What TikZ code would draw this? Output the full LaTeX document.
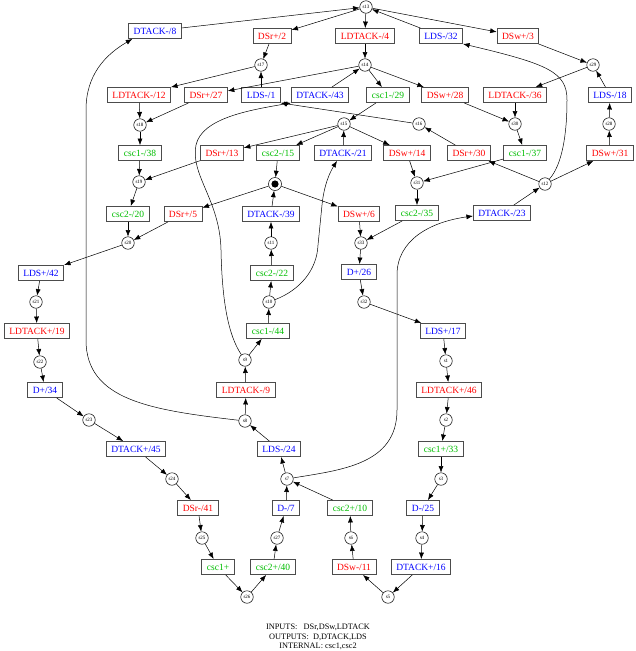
\documentclass[tikz,border=0pt]{standalone}
\usepackage{fontspec}
\setmainfont{Liberation Serif}
\usetikzlibrary{arrows.meta}

\definecolor{inputcolor}{RGB}{255,0,0}
\definecolor{outputcolor}{RGB}{0,0,255}
\definecolor{internalcolor}{RGB}{0,190,0}

\tikzset{
  transnode/.style={draw=black!70, line width=0.9pt, fill=white, minimum height=15pt,
    inner xsep=5pt, inner ysep=0pt, font=\fontsize{9.5}{10}\selectfont},
  inputnode/.style={transnode, text=inputcolor},
  outputnode/.style={transnode, text=outputcolor},
  internalnode/.style={transnode, text=internalcolor},
  placenode/.style={circle, draw, line width=0.5pt, fill=white, minimum size=12.5pt,
    inner sep=0pt, font=\fontsize{5}{5}\selectfont},
  markedplace/.style={placenode, minimum size=13pt,
    path picture={\fill[black] (path picture bounding box.center) circle (3.6pt);}},
  arc/.style={-{Latex[length=6.5pt,width=5pt]}, line width=0.5pt}
}

\begin{document}
\begin{tikzpicture}[x=1pt,y=-1pt]
  \useasboundingbox (0,0) rectangle (635,651);

  % Top rows
  \node[placenode] (s13) at (366,7) {s13};
  \node[outputnode] (dt8) at (155,31) {DTACK-/8};
  \node[inputnode] (dsr2) at (272,36) {DSr+/2};
  \node[inputnode] (ldt4) at (365,36) {LDTACK-/4};
  \node[outputnode] (lds32) at (441,36) {LDS-/32};
  \node[inputnode] (dsw3) at (518,36) {DSw+/3};
  \node[placenode] (s17) at (261,65) {s17};
  \node[placenode] (s14) at (365,65) {s14};
  \node[placenode] (s29) at (593,65) {s29};
  \node[inputnode] (ldt12) at (139,95) {LDTACK-/12};
  \node[inputnode] (dsr27) at (206,95) {DSr+/27};
  \node[outputnode] (lds1) at (261,95) {LDS-/1};
  \node[outputnode] (dt43) at (320,95) {DTACK-/43};
  \node[internalnode] (csc29) at (388,95) {csc1-/29};
  \node[inputnode] (dsw28) at (445,95) {DSw+/28};
  \node[inputnode] (ldt36) at (515,95) {LDTACK-/36};
  \node[outputnode] (lds18) at (610,95) {LDS-/18};
  \node[placenode] (s18) at (140,125) {s18};
  \node[placenode] (s15) at (344,124) {s15};
  \node[placenode] (s16) at (419,124) {s16};
  \node[placenode] (s30) at (515,124) {s30};
  \node[placenode] (s28) at (609,124) {s28};

  % Middle rows
  \node[internalnode] (csc38) at (140,153) {csc1-/38};
  \node[inputnode] (dsr13) at (222,153) {DSr+/13};
  \node[internalnode] (csc15) at (278,153) {csc2-/15};
  \node[outputnode] (dt21) at (343,153) {DTACK-/21};
  \node[inputnode] (dsw14) at (407,153) {DSw+/14};
  \node[inputnode] (dsr30) at (469,153) {DSr+/30};
  \node[internalnode] (csc37) at (525,153) {csc1-/37};
  \node[inputnode] (dsw31) at (610,153) {DSw+/31};
  \node[placenode] (s19) at (139,182) {s19};
  \node[markedplace] (m0) at (275,184) {};
  \node[placenode] (s31) at (417,183) {s31};
  \node[placenode] (s12) at (545,184) {s12};
  \node[internalnode] (csc20) at (128,214) {csc2-/20};
  \node[inputnode] (dsr5) at (183,214) {DSr+/5};
  \node[outputnode] (dt39) at (271,214) {DTACK-/39};
  \node[inputnode] (dsw6) at (359,214) {DSw+/6};
  \node[internalnode] (csc35) at (417,213) {csc2-/35};
  \node[outputnode] (dt23) at (502,213) {DTACK-/23};
  \node[placenode] (s20) at (128,243) {s20};
  \node[placenode] (s11) at (271,243) {s11};
  \node[placenode] (s33) at (361,243) {s33};
  \node[outputnode] (lds42) at (41,273) {LDS+/42};
  \node[internalnode] (csc22) at (272,273) {csc2-/22};
  \node[outputnode] (d26) at (359,272) {D+/26};
  \node[placenode] (s21) at (36,302) {s21};
  \node[placenode] (s10) at (269,302) {s10};
  \node[placenode] (s32) at (364,302) {s32};
  \node[inputnode] (ldt19) at (37,331) {LDTACK+/19};
  \node[internalnode] (csc44) at (268,331) {csc1-/44};
  \node[outputnode] (lds17) at (443,331) {LDS+/17};
  \node[placenode] (s22) at (40,362) {s22};
  \node[placenode] (s9) at (245,360) {s9};
  \node[placenode] (s1) at (446,361) {s1};
  \node[outputnode] (d34) at (45,390) {D+/34};
  \node[inputnode] (ldt9) at (246,390) {LDTACK-/9};
  \node[inputnode] (ldt46) at (449,390) {LDTACK+/46};

  % Bottom rows
  \node[placenode] (s23) at (89,420) {s23};
  \node[placenode] (s8) at (245,421) {s8};
  \node[placenode] (s2) at (446,420) {s2};
  \node[outputnode] (dt45) at (136,449) {DTACK+/45};
  \node[outputnode] (lds24) at (279,449) {LDS-/24};
  \node[internalnode] (csc33) at (441,449) {csc1+/33};
  \node[placenode] (s24) at (172,479) {s24};
  \node[placenode] (s7) at (287,479) {s7};
  \node[placenode] (s3) at (441,479) {s3};
  \node[inputnode] (dsr41) at (198,508) {DSr-/41};
  \node[outputnode] (d7) at (286,508) {D-/7};
  \node[internalnode] (csc10) at (350,508) {csc2+/10};
  \node[outputnode] (d25) at (423,508) {D-/25};
  \node[placenode] (s25) at (202,538) {s25};
  \node[placenode] (s27) at (277,538) {s27};
  \node[placenode] (s6) at (351,538) {s6};
  \node[placenode] (s4) at (422,538) {s4};
  \node[internalnode] (csc1p) at (218,567) {csc1+};
  \node[internalnode] (csc40) at (273,567) {csc2+/40};
  \node[inputnode] (dsw11) at (354,567) {DSw-/11};
  \node[outputnode] (dt16) at (421,567) {DTACK+/16};
  \node[placenode] (s26) at (247,597) {s26};
  \node[placenode] (s5) at (388,597) {s5};

  % Signal list
  \node[align=center, font=\fontsize{8.3}{9.3}\selectfont] (legend) at (318,637)
    {INPUTS:\ \ \ DSr,DSw,LDTACK\\OUTPUTS:\ \ D,DTACK,LDS\\INTERNAL: csc1,csc2};

  % Arcs around s13
  \draw[arc] (dt8) -- (s13);
  \draw[arc] (s13) -- (dsr2);
  \draw[arc] (s13) -- (ldt4);
  \draw[arc] (lds32) -- (s13);
  \draw[arc] (s13) -- (dsw3);
  \draw[arc] (dsw3) -- (s29);
  \draw[arc] (lds18) -- (s29);
  \draw[arc] (s29) -- (ldt36);
  \draw[arc] (ldt36) -- (s30);
  \draw[arc] (dsw28) -- (s30);
  \draw[arc] (s30) -- (csc37);
  \draw[arc] (dsw31) -- (s28);
  \draw[arc] (s28) -- (lds18);
  \draw[arc] (dsr2) -- (s17);
  \draw[arc] (lds1) -- (s17);
  \draw[arc] (s17) -- (ldt12);
  \draw[arc] (ldt4) -- (s14);
  \draw[arc] (dt43) -- (s14);
  \draw[arc] (s14) -- (dsr27);
  \draw[arc] (s14) -- (csc29);
  \draw[arc] (s14) -- (dsw28);
  \draw[arc] (ldt12) -- (s18);
  \draw[arc] (dsr27) -- (s18);
  \draw[arc] (s18) -- (csc38);
  \draw[arc] (csc38) -- (s19);
  \draw[arc] (dsr13) -- (s19);
  \draw[arc] (s19) -- (csc20);
  \draw[arc] (csc20) -- (s20);
  \draw[arc] (dsr5) -- (s20);
  \draw[arc] (s20) -- (lds42);

  % Arcs around s15 and the marked place
  \draw[arc] (csc29) -- (s15);
  \draw[arc] (dt21) -- (s15);
  \draw[arc] (s15) -- (dsr13);
  \draw[arc] (s15) -- (csc15);
  \draw[arc] (s15) -- (dsw14);
  \draw[arc] (csc15) -- (m0);
  \draw[arc] (dt39) -- (m0);
  \draw[arc] (m0) -- (dsr5);
  \draw[arc] (m0) -- (dsw6);
  \draw[arc] (dsw14) -- (s31);
  \draw[arc] (csc37) -- (s31);
  \draw[arc] (s31) -- (csc35);
  \draw[arc] (csc35) -- (s33);
  \draw[arc] (dsw6) -- (s33);
  \draw[arc] (s33) -- (d26);
  \draw[arc] (d26) -- (s32);
  \draw[arc] (s32) -- (lds17);
  \draw[arc] (dsr30) -- (s16);
  \draw[arc] (s16) -- (lds1.south east);
  \draw[arc] (dt23) -- (s12);
  \draw[arc] (s12) -- (dsr30);
  \draw[arc] (s12) -- (dsw31);

  % Right column
  \draw[arc] (lds17) -- (s1);
  \draw[arc] (s1) -- (ldt46);
  \draw[arc] (ldt46) -- (s2);
  \draw[arc] (s2) -- (csc33);
  \draw[arc] (csc33) -- (s3);
  \draw[arc] (s3) -- (d25);
  \draw[arc] (d25) -- (s4);
  \draw[arc] (s4) -- (dt16);
  \draw[arc] (dt16) -- (s5);
  \draw[arc] (s5) -- (dsw11);
  \draw[arc] (dsw11) -- (s6);
  \draw[arc] (s6) -- (csc10);
  \draw[arc] (csc10) -- (s7);

  % Left column
  \draw[arc] (lds42) -- (s21);
  \draw[arc] (s21) -- (ldt19);
  \draw[arc] (ldt19) -- (s22);
  \draw[arc] (s22) -- (d34);
  \draw[arc] (d34) -- (s23);
  \draw[arc] (s23) -- (dt45);
  \draw[arc] (dt45) -- (s24);
  \draw[arc] (s24) -- (dsr41);
  \draw[arc] (dsr41) -- (s25);
  \draw[arc] (s25) -- (csc1p);
  \draw[arc] (csc1p) -- (s26);
  \draw[arc] (s26) -- (csc40);
  \draw[arc] (csc40) -- (s27);
  \draw[arc] (s27) -- (d7);
  \draw[arc] (d7) -- (s7);

  % Middle column
  \draw[arc] (s7) -- (lds24);
  \draw[arc] (lds24) -- (s8);
  \draw[arc] (s8) -- (ldt9);
  \draw[arc] (ldt9) -- (s9);
  \draw[arc] (s9) -- (csc44);
  \draw[arc] (csc44) -- (s10);
  \draw[arc] (s10) -- (csc22);
  \draw[arc] (csc22) -- (s11);
  \draw[arc] (s11) -- (dt39);

  % Long curved arcs
  \draw[arc] (s8) .. controls (150,410) and (86,400) .. (86,340) -- (86,110)
    .. controls (86,75) and (105,55) .. ([xshift=4pt]dt8.south west);
  \draw[arc] (s9) .. controls (228,335) and (222,300) .. (221,250)
    .. controls (220,200) and (190,175) .. (196,145)
    .. controls (202,118) and (250,110) .. (dt43.south west);
  \draw[arc] (s10) .. controls (300,290) and (317,270) .. (318,245) -- (322,205)
    .. controls (324,185) and (330,172) .. ([xshift=-6pt]dt21.south);
  \draw[arc] (s7) .. controls (340,470) and (397,465) .. (397,410) -- (397,275)
    .. controls (397,240) and (430,222) .. ([yshift=-3pt]dt23.west);
  \draw[arc] (s12) .. controls (562,165) and (567,135) .. (567,100)
    .. controls (567,72) and (548,64) .. (lds32.south east);

\end{tikzpicture}
\end{document}
